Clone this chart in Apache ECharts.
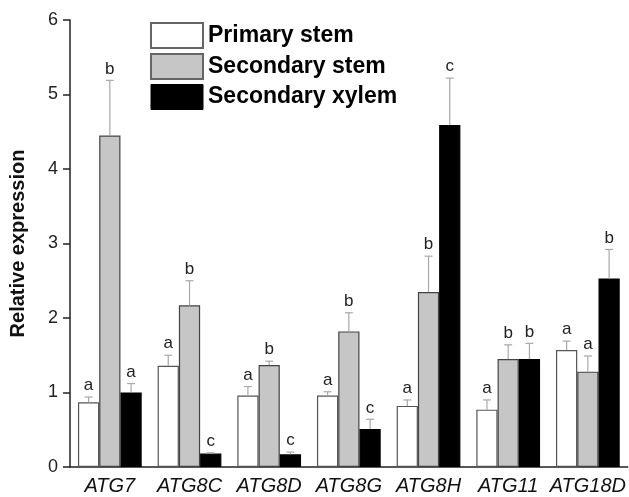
<!DOCTYPE html>
<html>
<head>
<meta charset="utf-8">
<script src="https://cdn.jsdelivr.net/npm/echarts@6/dist/echarts.min.js"></script>
<style>
  html, body { margin: 0; padding: 0; background: #fff; }
  #chart { width: 629px; height: 497px; }
</style>
</head>
<body>
<div id="chart"></div>
<script>
const genes = ['ATG7', 'ATG8C', 'ATG8D', 'ATG8G', 'ATG8H', 'ATG11', 'ATG18D'];
const seriesNames = ['Primary stem', 'Secondary stem', 'Secondary xylem'];

const primaryMean = [0.87, 1.36, 0.96, 0.96, 0.82, 0.77, 1.57];
const primaryErr  = [0.94, 1.50, 1.08, 1.01, 0.90, 0.90, 1.69];
const primaryLetters = ['a', 'a', 'a', 'a', 'a', 'a', 'a'];

const secondaryMean = [4.45, 2.17, 1.37, 1.82, 2.35, 1.45, 1.28];
const secondaryErr  = [5.19, 2.50, 1.42, 2.07, 2.83, 1.64, 1.49];
const secondaryLetters = ['b', 'b', 'b', 'b', 'b', 'b', 'a'];

const xylemMean = [1.00, 0.18, 0.17, 0.51, 4.59, 1.45, 2.53];
const xylemErr  = [1.12, 0.19, 0.20, 0.64, 5.22, 1.66, 2.92];
const xylemLetters = ['a', 'c', 'c', 'c', 'c', 'b', 'b'];

const yTicks = [0, 1, 2, 3, 4, 5, 6];

const font = 'Liberation Sans, Arial, sans-serif';
const fills = ['#ffffff', '#c6c6c6', '#000000'];
const borders = ['#555555', '#444444', '#000000'];

const means = [primaryMean, secondaryMean, xylemMean];
const errs = [primaryErr, secondaryErr, xylemErr];
const letters = [primaryLetters, secondaryLetters, xylemLetters];

const chart = echarts.init(document.getElementById('chart'));

const barSeries = seriesNames.map((name, s) => ({
  name: name,
  type: 'bar',
  data: means[s],
  barGap: '0%',
  barCategoryGap: '20%',
  itemStyle: { color: fills[s], borderColor: borders[s], borderWidth: 1.2 },
  z: 2
}));

// error bars (upper only) + significance letters
const errSeries = seriesNames.map((name, s) => ({
  type: 'custom',
  silent: true,
  z: 3,
  data: genes.map((g, i) => [i, means[s][i], errs[s][i]]),
  renderItem: function (params, api) {
    const idx = api.value(0);
    const band = api.size([1, 0])[0];
    const barW = band * 0.8 / 3;
    const base = api.coord([idx, api.value(1)]);
    const top = api.coord([idx, api.value(2)]);
    const x = base[0] + (s - 1) * barW;
    const cap = 4;
    return {
      type: 'group',
      children: [
        { type: 'line', shape: { x1: x, y1: base[1], x2: x, y2: top[1] },
          style: { stroke: '#a8a8a8', lineWidth: 1.2 } },
        { type: 'line', shape: { x1: x - cap, y1: top[1], x2: x + cap, y2: top[1] },
          style: { stroke: '#a8a8a8', lineWidth: 1.2 } },
        { type: 'text', x: x, y: top[1] - 3,
          style: { text: letters[s][idx], fill: '#222', font: '17px ' + font,
                   align: 'center', verticalAlign: 'bottom' } }
      ]
    };
  }
}));

const option = {
  animation: false,
  grid: { left: 70, right: 1, top: 20, bottom: 30, containLabel: false },
  legend: {
    orient: 'vertical',
    left: 150,
    top: 22,
    padding: 0,
    itemWidth: 52,
    itemHeight: 25,
    itemGap: 4,
    icon: 'rect',
    data: [
      { name: seriesNames[0], itemStyle: { borderColor: '#666', borderWidth: 2 } },
      { name: seriesNames[1], itemStyle: { borderColor: '#666', borderWidth: 2 } },
      { name: seriesNames[2], itemStyle: { borderColor: '#000', borderWidth: 1 } }
    ],
    textStyle: { fontSize: 23, fontWeight: 'bold', fontFamily: font, color: '#000' }
  },
  xAxis: {
    type: 'category',
    data: genes,
    axisLine: { lineStyle: { color: '#222', width: 1.5 } },
    axisTick: { show: false },
    axisLabel: {
      interval: 0, fontSize: 20, fontStyle: 'italic', fontFamily: font,
      color: '#111', margin: 9
    }
  },
  yAxis: {
    type: 'value',
    min: yTicks[0],
    max: yTicks[yTicks.length - 1],
    interval: 1,
    name: 'Relative expression',
    nameLocation: 'middle',
    nameGap: 42,
    nameTextStyle: { fontSize: 20, fontWeight: 'bold', fontFamily: font, color: '#111' },
    axisLine: { show: true, lineStyle: { color: '#222', width: 1.5 } },
    axisTick: { show: true, length: 7, lineStyle: { color: '#222', width: 1.5 } },
    axisLabel: { fontSize: 18, fontFamily: font, color: '#222', margin: 12 },
    splitLine: { show: false }
  },
  series: barSeries.concat(errSeries)
};

chart.setOption(option);
</script>
</body>
</html>
